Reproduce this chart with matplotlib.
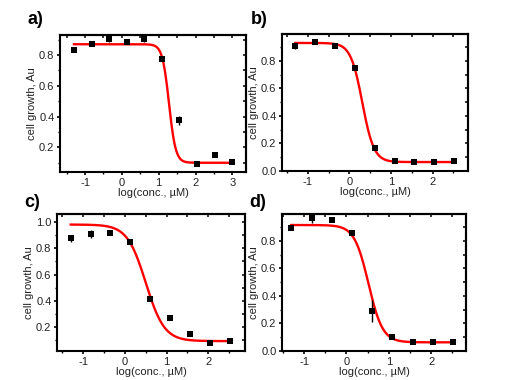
import numpy as np
import matplotlib
matplotlib.use("Agg")
import matplotlib.pyplot as plt
from matplotlib.ticker import MultipleLocator, FixedLocator

plt.rcParams['font.family'] = ['Liberation Sans', 'DejaVu Sans']

# ---- data ----
x_a = [-1.301, -0.824, -0.347, 0.130, 0.607, 1.084, 1.561, 2.038, 2.515, 2.992]
y_a = [0.835, 0.870, 0.902, 0.884, 0.905, 0.773, 0.375, 0.094, 0.150, 0.104]
e_a = [0.008, 0.008, 0.015, 0.008, 0.022, 0.012, 0.030, 0.005, 0.006, 0.006]
fit_a = [0.870, 0.100, 1.28, 4.8]   # top, bottom, logEC50, hill

x_b = [-1.301, -0.824, -0.347, 0.130, 0.607, 1.084, 1.561, 2.038, 2.515]
y_b = [0.905, 0.936, 0.910, 0.746, 0.168, 0.074, 0.062, 0.062, 0.069]
e_b = [0.020, 0.008, 0.008, 0.010, 0.008, 0.006, 0.006, 0.006, 0.006]
fit_b = [0.930, 0.065, 0.31, 3.1]

x_c = [-1.301, -0.824, -0.347, 0.130, 0.607, 1.084, 1.561, 2.038, 2.515]
y_c = [0.876, 0.909, 0.917, 0.845, 0.412, 0.268, 0.149, 0.078, 0.095]
e_c = [0.028, 0.030, 0.008, 0.006, 0.006, 0.006, 0.012, 0.006, 0.006]
fit_c = [0.980, 0.095, 0.50, 1.95]

x_d = [-1.301, -0.824, -0.347, 0.130, 0.607, 1.084, 1.561, 2.038, 2.515]
y_d = [0.895, 0.965, 0.955, 0.857, 0.290, 0.105, 0.068, 0.066, 0.064]
e_d = [0.008, 0.035, 0.010, 0.012, 0.080, 0.006, 0.006, 0.006, 0.006]
fit_d = [0.915, 0.063, 0.52, 2.6]

panel_labels = ['a)', 'b)', 'c)', 'd)']
xlabel = 'log(conc., µM)'
ylabel = 'cell growth, Au'

def hill(x, top, bottom, ec50, n):
    return bottom + (top - bottom) / (1.0 + 10 ** ((x - ec50) * n))

W, H = 520, 380
fig = plt.figure(figsize=(W / 100, H / 100), dpi=100)

def add_ax(x1, y1, x2, y2):
    return fig.add_axes([x1 / W, 1 - y2 / H, (x2 - x1) / W, (y2 - y1) / H])

panels = [
    (add_ax(60, 35, 246, 172), x_a, y_a, e_a, fit_a, (-1.68, 3.37), (0.04, 0.93), [0.2, 0.4, 0.6, 0.8], [-1, 0, 1, 2, 3]),
    (add_ax(282, 34, 468, 171), x_b, y_b, e_b, fit_b, (-1.62, 2.85), (0.0, 0.995), [0.0, 0.2, 0.4, 0.6, 0.8], [-1, 0, 1, 2]),
    (add_ax(57, 214, 245, 351), x_c, y_c, e_c, fit_c, (-1.63, 2.88), (0.02, 1.06), [0.2, 0.4, 0.6, 0.8, 1.0], [-1, 0, 1, 2]),
    (add_ax(282, 214, 466, 351), x_d, y_d, e_d, fit_d, (-1.52, 2.82), (0.0, 0.995), [0.0, 0.2, 0.4, 0.6, 0.8], [-1, 0, 1, 2]),
]

label_pos = [(27, 24), (251, 24), (24, 207), (249, 207)]

for i, (ax, xs, ys, es, fit, xl, yl, yt, xt) in enumerate(panels):
    xf = np.linspace(xs[0], xs[-1], 300)
    ax.plot(xf, hill(xf, *fit), color='#ff0000', lw=1.7, zorder=2)
    ax.errorbar(xs, ys, yerr=es, fmt='s', color='black', ms=3.8, mew=0,
                elinewidth=1.0, capsize=2.0, capthick=1.0, zorder=3)
    ax.set_xlim(*xl)
    ax.set_ylim(*yl)
    ax.xaxis.set_major_locator(FixedLocator(xt))
    ax.yaxis.set_major_locator(FixedLocator(yt))
    ax.xaxis.set_minor_locator(MultipleLocator(0.5))
    ax.yaxis.set_minor_locator(MultipleLocator(0.1))
    ax.set_yticklabels([f'{v:.1f}' for v in yt])
    ax.set_xticklabels([str(v) for v in xt])
    for s in ax.spines.values():
        s.set_linewidth(1.5)
    ax.tick_params(which='both', direction='out', top=False, right=False,
                   labelsize=8, labelcolor='#222222', pad=1.5)
    ax.tick_params(which='major', length=2.5, width=1.2)
    ax.tick_params(which='minor', length=1.5, width=1.0)
    # inward ticks on top and right
    sx = ax.secondary_xaxis('top')
    sx.xaxis.set_major_locator(FixedLocator(xt))
    sx.xaxis.set_minor_locator(MultipleLocator(0.5))
    sx.tick_params(which='both', direction='in', labeltop=False, length=2.2, width=1.1)
    sx.spines['top'].set_linewidth(1.5)
    sy = ax.secondary_yaxis('right')
    sy.yaxis.set_major_locator(FixedLocator(yt))
    sy.yaxis.set_minor_locator(MultipleLocator(0.1))
    sy.tick_params(which='both', direction='in', labelright=False, length=2.2, width=1.1)
    sy.spines['right'].set_linewidth(1.5)
    ax.set_xlabel(xlabel, fontsize=8, color='#222222', labelpad=0.5)
    ax.set_ylabel(ylabel, fontsize=8, color='#222222', labelpad=1.5)
    fig.text(label_pos[i][0] / W, 1 - label_pos[i][1] / H, panel_labels[i],
             fontsize=13, fontweight='bold', ha='left', va='baseline')

fig.savefig('out.png', dpi=100)
